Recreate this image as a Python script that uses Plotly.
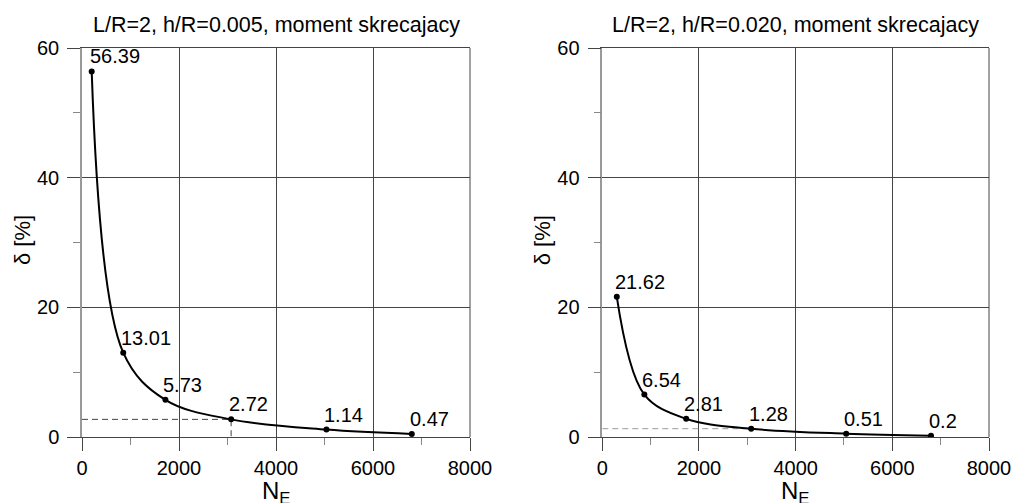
import plotly.graph_objects as go

W, H = 1013, 503

# ---- data ----
ne_left = [200, 850, 1720, 3075, 5040, 6800]
delta_left = [56.39, 13.01, 5.73, 2.72, 1.14, 0.47]
labels_left = ["56.39", "13.01", "5.73", "2.72", "1.14", "0.47"]

ne_right = [300, 870, 1735, 3080, 5045, 6800]
delta_right = [21.62, 6.54, 2.81, 1.28, 0.51, 0.2]
labels_right = ["21.62", "6.54", "2.81", "1.28", "0.51", "0.2"]

titles = ["L/R=2, h/R=0.005, moment skrecajacy", "L/R=2, h/R=0.020, moment skrecajacy"]
ref_index = 3  # point marked by dashed guide lines

x_ticks = [0, 2000, 4000, 6000, 8000]
y_ticks = [0, 20, 40, 60]

FONT = "Arial, 'Liberation Sans', sans-serif"

# ---- layout geometry (pixels) ----
plot_left = [82, 602.3]
plot_right = [470, 989]
plot_top, plot_bottom = 48, 437

fig = go.Figure()

series = [(ne_left, delta_left, labels_left, "#444444"),
          (ne_right, delta_right, labels_right, "#9a9a9a")]

annotations = []
shapes = []
for i, (xs, ys, labs, dcol) in enumerate(series):
    xa = "x" if i == 0 else "x2"
    ya = "y" if i == 0 else "y2"
    # dashed guide lines
    gx = [0, xs[ref_index], xs[ref_index]] if i == 0 else [0, xs[ref_index]]
    gy = [ys[ref_index], ys[ref_index], 0] if i == 0 else [ys[ref_index], ys[ref_index]]
    fig.add_trace(go.Scatter(x=gx, y=gy, mode="lines", xaxis=xa, yaxis=ya,
                             line=dict(color=dcol, width=1, dash="6px,4px"),
                             showlegend=False, hoverinfo="skip"))
    fig.add_trace(go.Scatter(x=xs, y=ys, mode="lines+markers", xaxis=xa, yaxis=ya,
                             line=dict(color="black", width=2, shape="spline", smoothing=1.0),
                             marker=dict(color="black", size=6),
                             showlegend=False))
    for xv, yv, t in zip(xs, ys, labs):
        annotations.append(dict(x=xv, y=yv, xref=xa, yref=ya, text=t, showarrow=False,
                                xanchor="left", yanchor="bottom", xshift=-4, yshift=2,
                                font=dict(family=FONT, size=20, color="black")))

    cx = (plot_left[i] + plot_right[i]) / 2 / W
    annotations.append(dict(x=cx, y=1 - 25 / H, xref="paper", yref="paper", text=titles[i],
                            showarrow=False, xanchor="center", yanchor="middle",
                            font=dict(family=FONT, size=21.5, color="black")))
    annotations.append(dict(x=cx, y=1 - 492 / H, xref="paper", yref="paper", text="N<sub>E</sub>",
                            showarrow=False, xanchor="center", yanchor="middle",
                            font=dict(family=FONT, size=24, color="black")))
    annotations.append(dict(x=(22 + (plot_left[i] - 82)) / W, y=1 - 240 / H, xref="paper", yref="paper",
                            text="δ [%]", textangle=-90, showarrow=False,
                            xanchor="center", yanchor="middle",
                            font=dict(family=FONT, size=22, color="black")))
    xdom = "x domain" if i == 0 else "x2 domain"
    ydom = "y domain" if i == 0 else "y2 domain"
    shapes.append(dict(type="line", xref=xdom, yref=ydom, x0=1, x1=1, y0=0, y1=1,
                       line=dict(color="#444444", width=1)))

axis_common = dict(showgrid=True, gridcolor="#444444", gridwidth=1, zeroline=False,
                   automargin=False,
                   ticks="outside", ticklen=13, tickcolor="#444444", tickwidth=1,
                   tickfont=dict(family=FONT, size=20, color="black"))

xdef = dict(axis_common, range=[0, 8000], tickvals=x_ticks, showline=True, linecolor="#444444",
            mirror=True,
            minor=dict(ticks="outside", ticklen=7, tickcolor="#888888", dtick=1000, showgrid=False))
ydef = dict(axis_common, range=[0, 60], tickvals=y_ticks, showline=True, linecolor="#999999",
            linewidth=1.5, ticklabelstandoff=4,
            minor=dict(ticks="outside", ticklen=7, tickcolor="#888888", dtick=10, showgrid=False))

fig.update_layout(
    width=W, height=H,
    margin=dict(l=0, r=0, t=0, b=0, autoexpand=False),
    paper_bgcolor="white", plot_bgcolor="white",
    xaxis=dict(xdef, domain=[plot_left[0] / W, plot_right[0] / W], anchor="y"),
    yaxis=dict(ydef, domain=[1 - plot_bottom / H, 1 - plot_top / H], anchor="x"),
    xaxis2=dict(xdef, domain=[plot_left[1] / W, plot_right[1] / W], anchor="y2"),
    yaxis2=dict(ydef, domain=[1 - plot_bottom / H, 1 - plot_top / H], anchor="x2"),
    annotations=annotations,
    shapes=shapes,
    showlegend=False,
)

fig.write_html("out.html", config={"responsive": False, "displayModeBar": False},
               post_script="document.body.style.margin='0';document.body.style.overflow='hidden';")
